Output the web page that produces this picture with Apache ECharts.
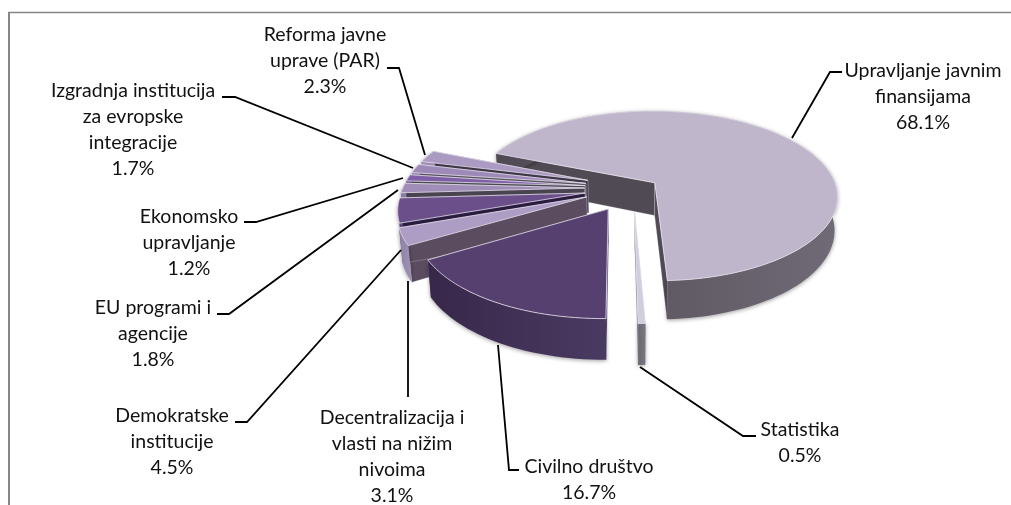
<!DOCTYPE html>
<html>
<head>
<meta charset="utf-8">
<style>
html,body{margin:0;padding:0;background:#fff;}
#chart{width:1011px;height:505px;}
</style>
<script src="https://cdn.jsdelivr.net/npm/echarts@6/dist/echarts.min.js"></script>
</head>
<body>
<div id="chart"></div>
<script>
var categories = ['Upravljanje javnim\nfinansijama', 'Statistika', 'Civilno društvo', 'Decentralizacija i\nvlasti na nižim\nnivoima', 'Demokratske\ninstitucije', 'EU programi i\nagencije', 'Ekonomsko\nupravljanje', 'Izgradnja institucija\nza evropske\nintegracije', 'Reforma javne\nuprave (PAR)'];
var shares = [68.1, 0.5, 16.7, 3.1, 4.5, 1.8, 1.2, 1.7, 2.3];

// how far each slice is pulled out of the pie
var explode = [0.108, 0.3, 0.3, 0.3, 0.3, 0.3, 0.3, 0.3, 0.3];
var nudge = [[0, 0], [-6, -2], [-3, -2], [-2, -2], [0, 0], [0, 0], [0, 0], [0, 0], [0, 0]];
var topColors = ['#bfb6cc', '#d2cddc', '#554070', '#ad9dc4', '#6b4f8a', '#a08db8', '#7f5fa5', '#9d8ab8', '#ab9bc3'];
var sideColors = ['#4f4a53', '#8a8690', '#3f2f57', '#5b4c60', '#2a1b40', '#4a4350', '#4a4a50', '#55505c', '#3f3648'];
var wallColors = [['#6f6a75', '#4f4a53'], ['#7a7680', '#6c6872'], ['#4a3a62', '#37284a'], ['#a092b6', '#8f80a6'], ['#5e457c', '#5e457c'], ['#8d7ba6', '#8d7ba6'], ['#6d5190', '#6d5190'], ['#8a78a4', '#8a78a4'], ['#9a8ab2', '#9a8ab2']];
var drawOrder = [0, 8, 7, 6, 5, 4, 3, 2, 1];

// label centre x, first line y, leader line
var labelPlace = [
    {x: 923, y: 71, line: [[842, 72], [830, 72], [792, 138]]},
    {x: 800, y: 430, line: [[756, 436], [743, 436], [640, 367]]},
    {x: 589, y: 467, line: [[519, 470], [509, 470], [498, 345]]},
    {x: 392, y: 418, line: [[408, 397], [408, 281]]},
    {x: 172, y: 416, line: [[235, 422], [247, 422], [401, 250]]},
    {x: 153, y: 308, line: [[217, 314], [229, 314], [398, 190]]},
    {x: 189, y: 217, line: [[244, 222], [256, 222], [403, 178]]},
    {x: 133, y: 91, line: [[222, 97], [235, 97], [413, 168]]},
    {x: 325, y: 35, line: [[387, 68], [399, 68], [425, 155]]}
];

var X0 = 639, Y0 = 188, R = 181.8, RS = 84.4, K = 0.156, DEPTH = 33;
var START_ANGLE = -68;

var total = 0;
for (var n = 0; n < shares.length; n++) {
    total += shares[n];
}

function project(wx, wy, down, shift) {
    var den = 1 - K * wy;
    var x = R * wx / den;
    var y = RS * wy / den;
    if (down) {
        return [X0 + x * 0.985 + shift[0], Y0 + y + DEPTH / den + shift[1]];
    }
    return [X0 + x + shift[0], Y0 + y + shift[1]];
}

function sliceRange(i) {
    var a = START_ANGLE;
    for (var j = 0; j < i; j++) {
        a += shares[j] / total * 360;
    }
    return [a, a + shares[i] / total * 360];
}

function renderSlice(params, api) {
    var i = api.value(0);
    var range = sliceRange(i);
    var shift = nudge[i];
    var mid = (range[0] + range[1]) / 2 * Math.PI / 180;
    var ox = Math.sin(mid) * explode[i];
    var oy = -Math.cos(mid) * explode[i];

    var topPts = [project(ox, oy, false, shift)];
    var lowPts = [];
    var steps = Math.max(2, Math.ceil((range[1] - range[0]) / 2));
    for (var s = 0; s <= steps; s++) {
        var a = (range[0] + (range[1] - range[0]) * s / steps) * Math.PI / 180;
        var wx = ox + Math.sin(a);
        var wy = oy - Math.cos(a);
        topPts.push(project(wx, wy, false, shift));
        lowPts.push(project(wx, wy, true, shift));
    }

    var apexTop = topPts[0];
    var apexLow = project(ox, oy, true, shift);
    var firstTop = topPts[1], lastTop = topPts[topPts.length - 1];
    var firstLow = lowPts[0], lastLow = lowPts[lowPts.length - 1];
    var wallPts = topPts.slice(1).concat(lowPts.slice().reverse());

    var shadow = {shadowBlur: 4, shadowColor: 'rgba(0,0,0,0.4)', shadowOffsetY: 1};
    return {
        type: 'group',
        children: [
            {type: 'polygon', shape: {points: [apexTop, firstTop, firstLow, apexLow]}, style: {fill: sideColors[i], stroke: 'rgba(230,226,238,0.5)', lineWidth: 0.5}},
            {type: 'polygon', shape: {points: [apexTop, lastTop, lastLow, apexLow]}, style: {fill: sideColors[i], stroke: 'rgba(230,226,238,0.5)', lineWidth: 0.5}},
            {type: 'polygon', shape: {points: wallPts}, style: Object.assign({
                fill: new echarts.graphic.LinearGradient(1, 0, 0, 0, [
                    {offset: 0, color: wallColors[i][0]},
                    {offset: 1, color: wallColors[i][1]}
                ])
            }, shadow)},
            {type: 'polygon', shape: {points: topPts}, style: {fill: topColors[i], stroke: '#e4e0ec', lineWidth: 0.8}}
        ]
    };
}

function renderLabel(params, api) {
    var i = api.value(0);
    var place = labelPlace[i];
    var lines = categories[i].split('\n');
    lines.push(shares[i].toFixed(1) + '%');
    var kids = [{type: 'polyline', shape: {points: place.line}, style: {fill: null, stroke: '#000', lineWidth: 1.8}}];
    for (var l = 0; l < lines.length; l++) {
        kids.push({
            type: 'text',
            style: {
                text: lines[l],
                x: place.x,
                y: place.y + l * 26,
                align: 'center',
                verticalAlign: 'middle',
                font: '19.5px Lato',
                fill: '#111'
            }
        });
    }
    return {type: 'group', children: kids};
}

var chart = echarts.init(document.getElementById('chart'), null, {renderer: 'canvas'});
chart.setOption({
    animation: false,
    backgroundColor: '#fff',
    graphic: [
        {type: 'line', shape: {x1: 9, y1: 12, x2: 9, y2: 505}, style: {stroke: '#868686', lineWidth: 2}},
        {type: 'line', shape: {x1: 8, y1: 12.5, x2: 1011, y2: 12.5}, style: {stroke: '#868686', lineWidth: 1.5}}
    ],
    series: [
        {
            type: 'custom',
            coordinateSystem: 'none',
            silent: true,
            renderItem: renderSlice,
            data: drawOrder.map(function (i) { return [i, shares[i]]; })
        },
        {
            type: 'custom',
            coordinateSystem: 'none',
            silent: true,
            renderItem: renderLabel,
            data: drawOrder.map(function (i) { return [i, shares[i]]; })
        }
    ]
});
</script>
</body>
</html>
